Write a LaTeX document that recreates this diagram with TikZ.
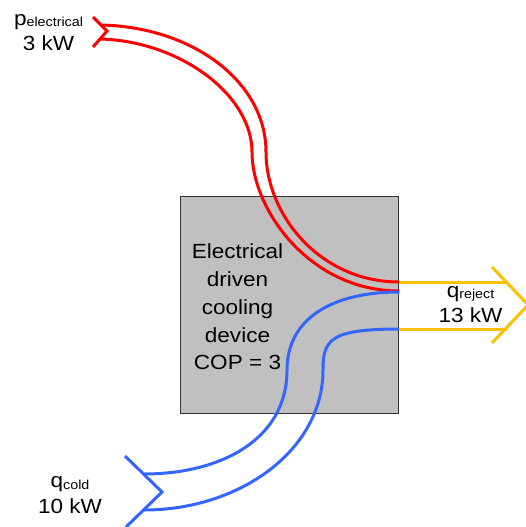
\documentclass[tikz,border=0pt]{standalone}
\usepackage{fontspec}
\usepackage{tikz}
\usetikzlibrary{calc}
\newfontfamily\diagfont[FakeStretch=1.1]{Liberation Sans}
\newcommand\lblfont{\diagfont\fontsize{20.5}{25.5}\selectfont}
\newcommand\devfont{\diagfont\fontsize{20.5}{27.75}\selectfont}
\newcommand\sub[1]{{\fontsize{13}{13}\selectfont\raisebox{-1.5pt}{#1}}}
\definecolor{hotred}{RGB}{255,0,0}
\definecolor{coldblue}{RGB}{51,102,255}
\definecolor{rejectgold}{RGB}{255,192,0}
\definecolor{boxgray}{RGB}{192,192,192}
\definecolor{boxedge}{RGB}{50,50,50}
\begin{document}
\begin{tikzpicture}[
    x=1pt, y=-1pt,
    flow/.style={line width=3pt, line join=miter},
    lbl/.style={font=\lblfont, align=center, inner sep=0pt},
    devbox/.style={draw=boxedge, fill=boxgray, line width=1.3pt,
                   minimum width=218pt, minimum height=217pt,
                   inner sep=0pt, anchor=north west},
]

\path[use as bounding box] (0,0) rectangle (526,527);

% ════════════════════════════════════════════════════════
% 0. DEVICE BOX
% ════════════════════════════════════════════════════════
\node[devbox] (device) at (180,196) {};
\node[font=\devfont, align=center, inner sep=0pt] (devtext) at (237.5,307)
    {Electrical\\driven\\cooling\\device\\COP = 3};

% ════════════════════════════════════════════════════════
% 1. ELECTRICAL POWER (RED, IN FROM TOP LEFT)
% ════════════════════════════════════════════════════════
\coordinate (redA)   at (101,25);
\coordinate (redB)   at (100,39);
\coordinate (redEA)  at (device.east |- 0,282);
\coordinate (redEB)  at (device.east |- 0,291);

\draw[hotred, flow] (redA)
    .. controls (193,27) and (266,82) .. (266,152)
    .. controls (266,215) and (320,282) .. (redEA);
\draw[hotred, flow] (redB)
    .. controls (180,41) and (252,95) .. (252,152)
    .. controls (252,210) and (310,291) .. (redEB);
% tail
\draw[hotred, flow] (93,17) -- (107,31) -- (93,47);

\node[lbl] (pel) at (48.5,32.7) {p\sub{electrical}\\3 kW};

% ════════════════════════════════════════════════════════
% 2. COLD HEAT (BLUE, IN FROM BOTTOM LEFT)
% ════════════════════════════════════════════════════════
\coordinate (blueEA) at (device.east |- 0,292);
\coordinate (blueEB) at (device.east |- 0,329);
\coordinate (blueA)  at (144,474);
\coordinate (blueB)  at (144,510);

\draw[coldblue, flow] (blueEA)
    .. controls (330,292) and (287,320) .. (287,370)
    .. controls (287,440) and (220,474) .. (blueA);
\draw[coldblue, flow] (blueEB)
    .. controls (330,329) and (323,340) .. (323,370)
    .. controls (323,450) and (240,510) .. (blueB);
% tail
\draw[coldblue, flow] (125,456) -- (162,492) -- (126,527);

\node[lbl] (qcold) at (70,495.2) {q\sub{cold}\\10 kW};

% ════════════════════════════════════════════════════════
% 3. REJECTED HEAT (YELLOW, OUT TO THE RIGHT)
% ════════════════════════════════════════════════════════
\coordinate (rejA) at (507,282);
\coordinate (rejB) at (507,329);

\draw[rejectgold, flow] (redEA) -- (rejA);
\draw[rejectgold, flow] (blueEB) -- (rejB);
% head
\draw[rejectgold, flow] (492,267) -- (528,305) -- (492,343);

\node[lbl] (qrej) at (470.5,304.7) {q\sub{reject}\\13 kW};

\end{tikzpicture}
\end{document}
